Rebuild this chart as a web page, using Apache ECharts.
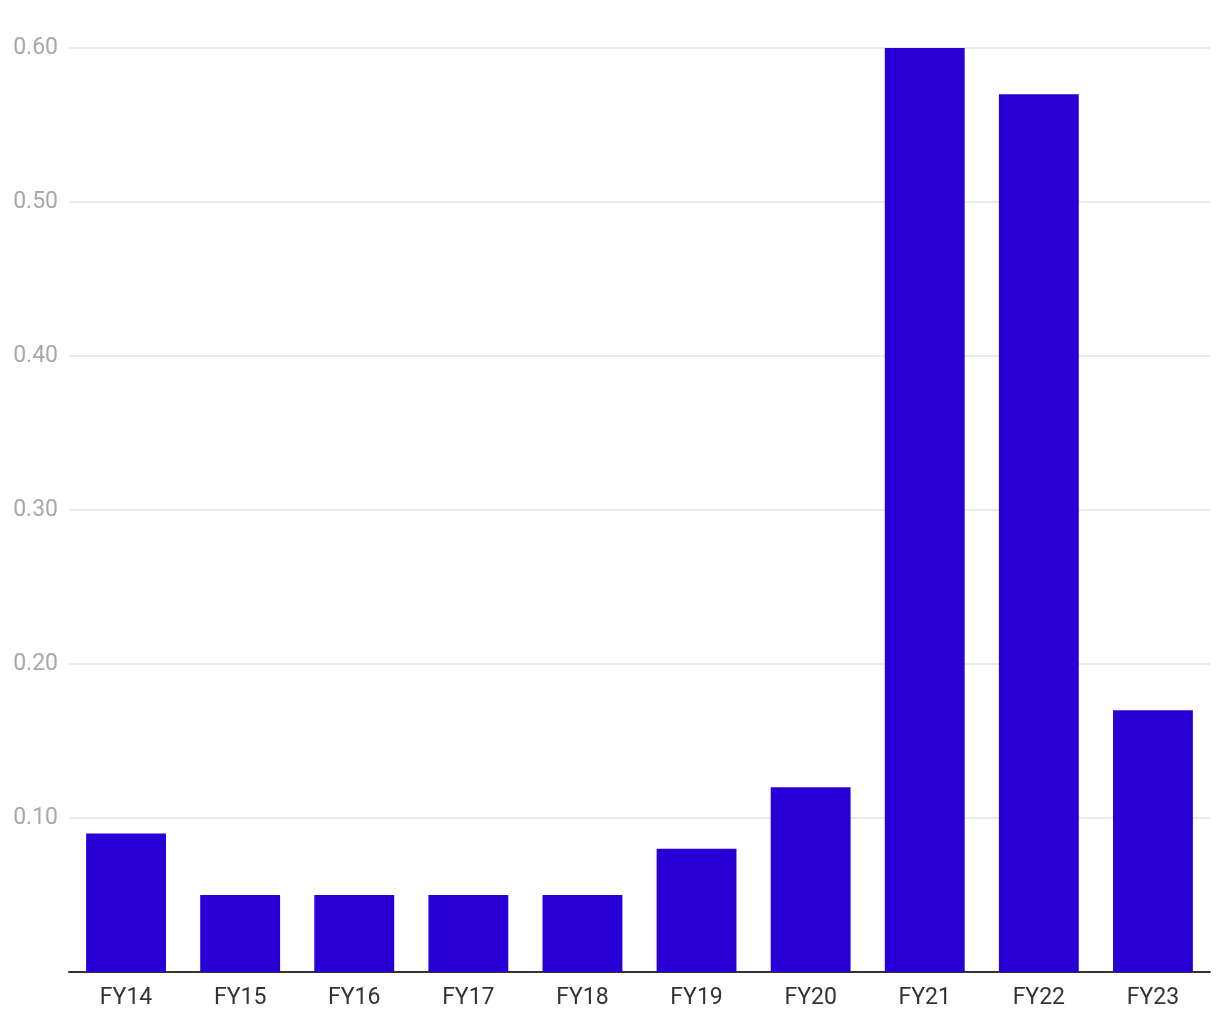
<!DOCTYPE html>
<html>
<head>
<meta charset="utf-8">
<script src="https://cdn.jsdelivr.net/npm/echarts@6/dist/echarts.min.js"></script>
<style>
html,body{margin:0;padding:0;background:#fff;}
#main{width:1220px;height:1020px;}
</style>
</head>
<body>
<div id="main"></div>
<script>
const categories = ['FY14','FY15','FY16','FY17','FY18','FY19','FY20','FY21','FY22','FY23'];
const values = [0.09,0.05,0.05,0.05,0.05,0.08,0.12,0.60,0.57,0.17];
const yTicks = [0,0.1,0.2,0.3,0.4,0.5,0.6];

const chart = echarts.init(document.getElementById('main'), null, {renderer:'canvas'});
chart.setOption({
  animation:false,
  backgroundColor:'#fff',
  grid:{left:69,right:10,top:48,bottom:48,containLabel:false},
  xAxis:{
    type:'category',
    data:categories,
    axisLine:{show:true,lineStyle:{color:'#333',width:2}},
    axisTick:{show:false},
    axisLabel:{color:'#333',fontSize:23,fontFamily:'Roboto',margin:15}
  },
  yAxis:{
    type:'value',
    min:yTicks[0],
    max:yTicks[yTicks.length-1],
    interval:0.1,
    axisLine:{show:false},
    axisTick:{show:false},
    splitLine:{lineStyle:{color:'#e3e3e3',width:1.5}},
    axisLabel:{
      color:'#a8a8a8',fontSize:23,fontFamily:'Roboto',margin:11,
      formatter:function(v){return v===0?'':v.toFixed(2);}
    }
  },
  series:[{
    type:'bar',
    data:values,
    barCategoryGap:'30%',
    itemStyle:{color:'#2800D7'}
  }]
});
</script>
</body>
</html>
